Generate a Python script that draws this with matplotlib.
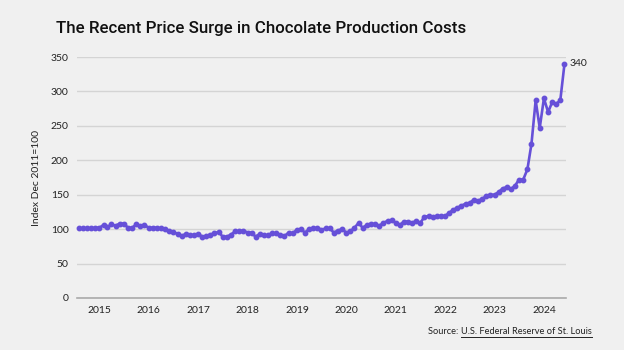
import matplotlib
matplotlib.use("Agg")
import matplotlib.pyplot as plt
import matplotlib.dates as mdates
import pandas as pd

# monthly index values, Aug 2014 .. Jun 2024 (Dec 2011 = 100)
start_month = "2014-08-01"
values = [
    101, 101, 101, 101, 102,                                   # 2014
    102, 106, 103, 107, 105, 108, 108, 102, 102, 107, 104, 106,  # 2015
    102, 102, 102, 101, 100, 97, 96, 93, 90, 93, 92, 91,         # 2016
    93, 89, 90, 92, 94, 96, 89, 89, 92, 97, 97, 98,              # 2017
    95, 95, 89, 93, 91, 91, 94, 94, 91, 90, 95, 94,              # 2018
    99, 100, 95, 100, 101, 102, 99, 101, 101, 95, 98, 100,       # 2019
    95, 97, 102, 109, 102, 106, 108, 107, 105, 109, 112, 113,    # 2020
    109, 106, 111, 111, 109, 112, 109, 118, 119, 118, 119, 119,  # 2021
    119, 124, 128, 131, 134, 137, 138, 143, 141, 144, 148, 150,  # 2022
    150, 154, 159, 161, 158, 163, 172, 172, 187, 224, 287, 247,  # 2023
    290, 270, 284, 282, 287, 340,                                # 2024
]
dates = pd.date_range(start_month, periods=len(values), freq="MS")
year_ticks = pd.date_range("2015-01-01", "2024-01-01", freq="YS")
y_ticks = [0, 50, 100, 150, 200, 250, 300, 350]

bg = "#f0f0f0"
line_color = "#6650d8"

fig = plt.figure(figsize=(6.24, 3.5), dpi=100, facecolor=bg)
ax = fig.add_axes([0.1234, 0.1486, 0.7836, 0.6884], facecolor=bg)

ax.plot(dates, values, color=line_color, lw=1.9, marker="o", ms=3.2,
        clip_on=False, zorder=3)
ax.annotate(str(values[-1]), (dates[-1], values[-1]), xytext=(4, 0),
            textcoords="offset points", va="center", ha="left",
            fontsize=7.5, family="Lato", color="#222222")

ax.set_ylim(0, 350)
ax.set_xlim(pd.Timestamp("2014-07-20"), pd.Timestamp("2024-06-12"))
ax.set_yticks(y_ticks)
ax.set_xticks(year_ticks)
ax.xaxis.set_major_formatter(mdates.DateFormatter("%Y"))
ax.grid(axis="y", color="#d4d4d4", lw=1)
ax.set_axisbelow(True)
for s in ["top", "right", "left"]:
    ax.spines[s].set_visible(False)
ax.spines["bottom"].set_color("#aaaaaa")
ax.spines["bottom"].set_linewidth(1.2)
ax.tick_params(length=0, labelsize=7.5, colors="#222222", pad=6)
for lab in ax.get_xticklabels() + ax.get_yticklabels():
    lab.set_family("Lato")
ax.set_ylabel("Index Dec 2011=100", fontsize=7.5, family="Lato",
              color="#222222", labelpad=7)

fig.text(0.419, 0.918, "The Recent Price Surge in Chocolate Production Costs",
         ha="center", va="center", fontsize=12.2, family="Roboto",
         weight="medium", color="#111111")

src = fig.text(0.686, 0.054, "Source: ", ha="left", va="center",
               fontsize=6.7, family="Lato", color="#222222")
fig.canvas.draw()
bb = src.get_window_extent()
link = fig.text(bb.x1 / fig.bbox.width, 0.054,
                "U.S. Federal Reserve of St. Louis", ha="left", va="center",
                fontsize=6.7, family="Lato", color="#222222")
fig.canvas.draw()
lb = link.get_window_extent()
fig.add_artist(plt.Line2D([lb.x0 / fig.bbox.width, lb.x1 / fig.bbox.width],
                          [(lb.y0 - 1) / fig.bbox.height] * 2,
                          transform=fig.transFigure, color="#222222", lw=0.7))

fig.savefig("out.png", dpi=100, facecolor=bg)
